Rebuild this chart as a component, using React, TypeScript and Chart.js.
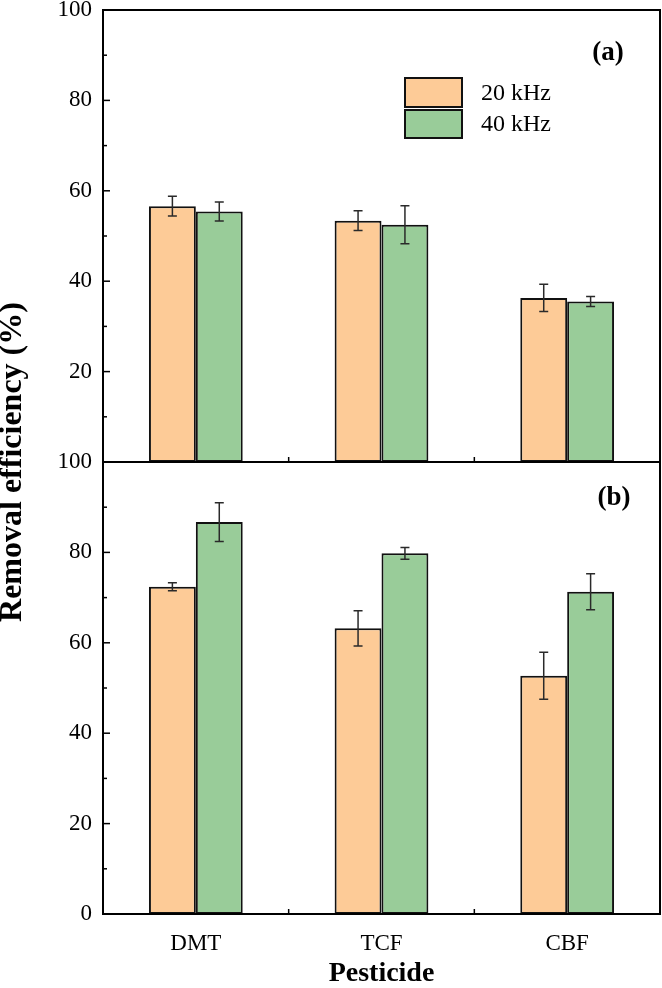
import React, { useEffect, useRef } from "react";
import { Chart, registerables } from "chart.js";

Chart.register(...registerables);

const categories = ["DMT", "TCF", "CBF"];
const seriesLabels = ["20 kHz", "40 kHz"];
// Panel (a)
const a20 = [56.6, 53.4, 36.3];
const a20Err = [2.2, 2.2, 3.0];
const a40 = [55.4, 52.5, 35.5];
const a40Err = [2.1, 4.2, 1.1];
// Panel (b)
const b20 = [72.4, 63.2, 52.7];
const b20Err = [0.9, 3.9, 5.2];
const b40 = [86.7, 79.8, 71.3];
const b40Err = [4.3, 1.3, 4.0];
const yTicks = [0, 20, 40, 60, 80, 100];
const panelLabels = ["(a)", "(b)"];

const ORANGE = "#FDCB97";
const GREEN = "#99CC99";
const SERIF = "'Liberation Serif', 'Times New Roman', serif";

const errs = [a20Err, a40Err, b20Err, b40Err];

const decorPlugin = {
  id: "decor",
  afterDatasetsDraw(chart: any) {
    const { ctx, chartArea: ca, scales } = chart;
    const yA = scales.yA;
    const yB = scales.yB;
    const x = scales.x;
    ctx.save();
    // error bars
    chart.data.datasets.forEach((ds: any, di: number) => {
      const meta = chart.getDatasetMeta(di);
      const ys = scales[ds.yAxisID];
      meta.data.forEach((bar: any, i: number) => {
        const v = ds.data[i];
        const e = errs[di][i];
        const t = ys.getPixelForValue(v + e);
        const b = ys.getPixelForValue(v - e);
        const cx = bar.x;
        ctx.strokeStyle = "#2a2a2a";
        ctx.lineWidth = 1.5;
        ctx.beginPath();
        ctx.moveTo(cx, t);
        ctx.lineTo(cx, b);
        ctx.moveTo(cx - 4.5, t);
        ctx.lineTo(cx + 4.5, t);
        ctx.moveTo(cx - 4.5, b);
        ctx.lineTo(cx + 4.5, b);
        ctx.stroke();
      });
    });
    // frame
    ctx.strokeStyle = "#000";
    ctx.lineWidth = 2;
    ctx.strokeRect(ca.left, ca.top, ca.right - ca.left, ca.bottom - ca.top);
    ctx.beginPath();
    ctx.moveTo(ca.left, yA.bottom);
    ctx.lineTo(ca.right, yA.bottom);
    ctx.stroke();
    // y ticks (inward), major + minor
    ctx.lineWidth = 1.5;
    [yA, yB].forEach((ys: any) => {
      for (let v = 0; v <= 100; v += 10) {
        const p = ys.getPixelForValue(v);
        const len = v % 20 === 0 ? 7 : 4;
        ctx.beginPath();
        ctx.moveTo(ca.left, p);
        ctx.lineTo(ca.left + len, p);
        ctx.stroke();
      }
    });
    // x ticks between categories, on both panel bottoms
    for (let i = 0; i < categories.length - 1; i++) {
      const p = (x.getPixelForValue(i) + x.getPixelForValue(i + 1)) / 2;
      [yA.bottom, yB.bottom].forEach((yy: number) => {
        ctx.beginPath();
        ctx.moveTo(p, yy);
        ctx.lineTo(p, yy - 5);
        ctx.stroke();
      });
    }
    // legend
    const lx = ca.left + 302;
    const rows = [
      { y: 78, h: 29, c: ORANGE },
      { y: 110, h: 28, c: GREEN },
    ];
    rows.forEach((r, i) => {
      ctx.fillStyle = r.c;
      ctx.fillRect(lx, r.y, 57, r.h);
      ctx.strokeStyle = "#111";
      ctx.lineWidth = 2;
      ctx.strokeRect(lx, r.y, 57, r.h);
      ctx.fillStyle = "#000";
      ctx.font = `24px ${SERIF}`;
      ctx.textAlign = "left";
      ctx.textBaseline = "middle";
      ctx.fillText(seriesLabels[i], lx + 76, r.y + r.h / 2 + 1);
    });
    // panel labels
    ctx.font = `bold 27px ${SERIF}`;
    ctx.textAlign = "center";
    ctx.textBaseline = "middle";
    ctx.fillText(panelLabels[0], 608, yA.top + 43);
    ctx.fillText(panelLabels[1], 614, yB.top + 36);
    // y title
    ctx.save();
    ctx.translate(13, (ca.top + ca.bottom) / 2);
    ctx.rotate(-Math.PI / 2);
    ctx.font = `bold 32px ${SERIF}`;
    ctx.fillText("Removal efficiency (%)", 0, 0);
    ctx.restore();
    ctx.restore();
  },
};

function yScale(hideZero: boolean) {
  return {
    type: "linear" as const,
    position: "left" as const,
    stack: "panels",
    stackWeight: 1,
    stacked: false,
    min: 0,
    max: 100,
    weight: hideZero ? 2 : 1,
    afterBuildTicks(scale: any) {
      scale.ticks = yTicks.map((v) => ({ value: v }));
    },
    ticks: {
      color: "#000",
      padding: 11,
      font: { size: 23, family: SERIF },
      autoSkip: false,
      callback: (v: any) => (hideZero && v === 0 ? "" : String(v)),
    },
    grid: { display: false, drawTicks: false },
    border: { display: false },
    afterFit(scale: any) {
      scale.width = 103;
      scale.paddingTop = 0;
      scale.paddingBottom = 0;
    },
  };
}

export default function App() {
  const ref = useRef<HTMLCanvasElement>(null);
  useEffect(() => {
    if (!ref.current) return;
    const chart = new Chart(ref.current, {
      type: "bar",
      data: {
        labels: categories,
        datasets: [
          { label: seriesLabels[0], data: a20, yAxisID: "yA", stack: "s20", backgroundColor: ORANGE },
          { label: seriesLabels[1], data: a40, yAxisID: "yA", stack: "s40", backgroundColor: GREEN },
          { label: seriesLabels[0], data: b20, yAxisID: "yB", stack: "s20", backgroundColor: ORANGE },
          { label: seriesLabels[1], data: b40, yAxisID: "yB", stack: "s40", backgroundColor: GREEN },
        ].map((d) => ({
          ...d,
          borderColor: "#111",
          borderWidth: 2,
          borderSkipped: false,
          categoryPercentage: 0.505,
          barPercentage: 1.0,
        })),
      },
      options: {
        responsive: false,
        animation: false,
        layout: { padding: { top: 10, right: 2, left: 0, bottom: 0 } },
        plugins: { legend: { display: false }, tooltip: { enabled: false } },
        scales: {
          x: {
            type: "category",
            grid: { display: false, drawTicks: false },
            border: { display: false },
            ticks: { color: "#000", padding: 16, font: { size: 23, family: SERIF } },
            title: {
              display: true,
              text: "Pesticide",
              color: "#000",
              font: { size: 28, weight: "bold", family: SERIF, lineHeight: 1 },
              padding: { top: 0, bottom: 0 },
            },
            afterFit(scale: any) {
              scale.height = 74;
              scale.paddingLeft = 0;
              scale.paddingRight = 0;
            },
          },
          yA: yScale(true),
          yB: yScale(false),
        },
      } as any,
      plugins: [decorPlugin],
    });
    return () => chart.destroy();
  }, []);
  return (
    <div style={{ position: "absolute", left: 0, top: 0, width: 662, height: 988, background: "#fff" }}>
      <canvas ref={ref} width={662} height={988} />
    </div>
  );
}
